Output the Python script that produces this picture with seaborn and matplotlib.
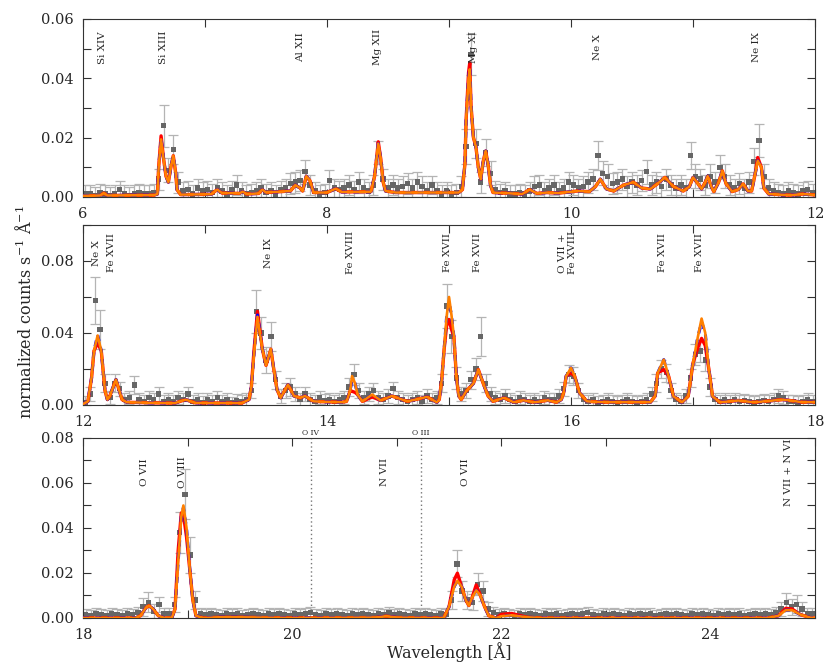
import numpy as np
import pandas as pd
import matplotlib
matplotlib.use('Agg')
import matplotlib.pyplot as plt
from matplotlib.ticker import MultipleLocator
import seaborn as sns

# observed spectrum, units of 1e-3 counts/s/A, regular bins per panel
start1, step1 = 6.02, 0.04
data1 = [1, 1, 0.5, 1.5, 1, 0.5, 1, 2.5, 1, 0.5, 1, 1.5, 1, 1, 1.5,
         6, 24, 9, 16, 5, 2, 2.5, 1, 3, 2, 2.5, 1.5, 3, 2, 1,
         2.5, 4, 2, 1, 1.5, 2, 3, 1.5, 2, 1, 2.5, 3, 4.5, 5, 5.5,
         8.5, 4, 2, 1, 1.5, 5.5, 3, 2.5, 3, 4, 2.5, 5, 3, 2, 4,
         15, 6, 3, 4, 3, 3.5, 4.5, 3, 5, 3.5, 2, 4, 2, 1, 2,
         1, 1.5, 3.5, 17, 48, 18, 5, 15, 8, 2.5, 1.5, 2, 1, 1, 1.5,
         1, 2, 3.5, 4, 2, 3, 4, 2, 3, 5, 4, 3, 3.5, 5, 6,
         14, 8, 7, 4.5, 5, 6, 3.5, 5, 4, 5.5, 8.5, 4, 5, 3.5, 6,
         4, 3, 4, 3, 14, 7, 6, 4, 7, 5, 10, 7, 4, 3, 4.5,
         3, 5, 12, 19, 7, 3, 2, 1.5, 1, 2, 1.5, 1, 2, 2.5, 1.5]
err1 = [3, 3, 3, 3, 3, 3, 3, 3, 3, 3, 3, 3, 3, 3, 3,
        3.5, 7, 4, 5, 3.5, 3, 3, 3, 3, 3, 3, 3, 3, 3, 3,
        3, 3.5, 3, 3, 3, 3, 3, 3, 3, 3, 3, 3, 3.5, 3.5, 3.5,
        4, 3.5, 3, 3, 3, 3.5, 3, 3, 3, 3.5, 3, 3.5, 3, 3, 3.5,
        4, 3.5, 3, 3.5, 3, 3.5, 3.5, 3, 3.5, 3.5, 3, 3, 3, 3, 3,
        3, 3, 3.5, 6, 7, 5, 3.5, 4.5, 4, 3, 3, 3, 3, 3, 3,
        3, 3, 3.5, 3.5, 3, 3, 3.5, 3, 3, 3.5, 3.5, 3, 3.5, 3.5, 3.5,
        5, 4, 4, 3.5, 3.5, 3.5, 3.5, 3.5, 3.5, 3.5, 4, 3.5, 3.5, 3.5, 3.5,
        3.5, 3, 3.5, 3, 4.5, 4, 3.5, 3.5, 4, 3.5, 4, 4, 3.5, 3, 3.5,
        3, 3.5, 4.5, 5.5, 4, 3, 3, 3, 3, 3, 3, 3, 3, 3, 3]

start2, step2 = 12.02, 0.04
data2 = [1.5, 6, 58, 42, 12, 4, 12, 9, 3, 4,
         11, 3, 2, 4, 3, 6, 2, 3, 2, 4,
         3, 6, 2, 3, 1.5, 3, 2, 4, 2, 3,
         1, 2.5, 2, 3, 8, 52, 40, 25, 38, 14,
         5, 8, 10, 6, 3, 6, 3, 2, 4, 2.5,
         3, 2, 3, 4, 10, 17, 8, 4, 6, 8,
         4, 3, 5, 9, 4, 3, 2, 3, 4, 2,
         5, 3, 4, 12, 55, 38, 15, 6, 8, 14,
         20, 38, 12, 6, 4, 3, 5, 3, 2, 4,
         3, 2, 3, 2, 4, 3, 3, 5, 9, 17,
         16, 8, 3, 2, 3, 1.5, 2, 3, 2, 1.5,
         2, 3, 2, 1.5, 2, 3, 6, 12, 20, 18,
         8, 3, 2, 5, 15, 28, 30, 25, 10, 3,
         2, 3, 2, 3, 2, 2.5, 2, 1.5, 2, 2.5,
         2, 3, 5, 4, 2, 2, 1.5, 2, 3, 2]
err2 = [3.5, 4, 13, 11, 5, 3.5, 5, 4, 3.5, 3.5,
        5, 3.5, 3.5, 3.5, 3.5, 4, 3.5, 3.5, 3.5, 3.5,
        3.5, 4, 3.5, 3.5, 3.5, 3.5, 3.5, 3.5, 3.5, 3.5,
        3.5, 3.5, 3.5, 3.5, 4, 12, 9, 7, 8, 5,
        4, 4, 5, 4, 3.5, 4, 3.5, 3.5, 3.5, 3.5,
        3.5, 3.5, 3.5, 3.5, 5, 6, 4, 3.5, 4, 4,
        3.5, 3.5, 4, 4, 3.5, 3.5, 3.5, 3.5, 3.5, 3.5,
        4, 3.5, 3.5, 5, 12, 9, 6, 4, 4, 5,
        6, 11, 5, 4, 3.5, 3.5, 4, 3.5, 3.5, 3.5,
        3.5, 3.5, 3.5, 3.5, 3.5, 3.5, 3.5, 4, 4, 5,
        5, 4, 3.5, 3.5, 3.5, 3.5, 3.5, 3.5, 3.5, 3.5,
        3.5, 3.5, 3.5, 3.5, 3.5, 3.5, 4, 5, 5, 5,
        4, 3.5, 3.5, 4, 5, 6, 6, 6, 5, 3.5,
        3.5, 3.5, 3.5, 3.5, 3.5, 3.5, 3.5, 3.5, 3.5, 3.5,
        3.5, 3.5, 4, 3.5, 3.5, 3.5, 3.5, 3.5, 3.5, 3.5]

start3, step3 = 18.025, 0.05
data3 = [1.5, 1, 2, 1.5, 1, 2, 1.5, 1, 2, 1.5, 2.5,
         5, 7, 3, 6, 2, 2, 6, 38, 55, 28, 8, 2,
         1.5, 2, 1.5, 1, 2, 1.5, 2, 1, 1.5, 2,
         1.5, 1, 2, 1.5, 2, 1.5, 1, 2, 1.5, 2,
         2.5, 1.5, 1, 2, 1.5, 2, 1.5, 1, 2, 1.5,
         2, 1.5, 1, 2, 1.5, 2.5, 1.5, 2, 1.5, 1,
         2, 1.5, 2, 1.5, 1, 2, 1.5,
         8, 24, 12, 8, 7, 15, 12, 4, 2.5,
         1.5, 2, 1.5, 1, 2, 1.5, 2, 1.5, 1, 2,
         1.5, 2, 1, 1.5, 2, 1.5, 2, 2.5, 1.5, 1,
         2, 1.5, 2, 1.5, 1, 2, 1.5, 2, 1.5, 2,
         1, 1.5, 2, 1.5, 2, 1.5, 1, 2, 1.5, 2,
         1.5, 1, 2, 1.5, 2, 1.5, 2, 1, 1.5, 2,
         1.5, 2, 1.5, 2.5,
         4, 7, 5, 6, 4, 2, 2]
err3 = ([2.5] * 11 + [4, 4.5, 3, 3.5, 2.5, 2.5, 3.5, 9, 11, 8, 4, 2.5]
        + [2.5] * 47 + [4, 6, 4.5, 4, 3.5, 5, 4.5, 3, 2.5]
        + [2.5] * 54 + [3, 4, 3.5, 4, 3, 2.5, 2.5])

# best-fit model (orange), sampled at its turning points
model1_wl = [6.00, 6.14, 6.17, 6.20, 6.58, 6.61, 6.62, 6.64, 6.66, 6.68, 6.70, 6.72, 6.74, 6.76,
             6.77, 6.80, 7.05, 7.10, 7.14, 7.28, 7.31, 7.34, 7.44, 7.47, 7.50, 7.70, 7.74, 7.78,
             7.80, 7.83, 7.86, 7.89, 8.00, 8.07, 8.12, 8.36, 8.39, 8.41, 8.42, 8.44, 8.46, 8.48,
             8.56, 9.08, 9.11, 9.13, 9.14, 9.16, 9.17, 9.18, 9.20, 9.22, 9.24, 9.26, 9.28, 9.30,
             9.32, 9.34, 9.36, 9.60, 9.66, 9.72, 9.80, 9.90, 10.05, 10.15, 10.20, 10.24, 10.29,
             10.35, 10.43, 10.51, 10.58, 10.65, 10.71, 10.77, 10.84, 10.92, 10.97, 11.00, 11.04,
             11.07, 11.10, 11.12, 11.15, 11.17, 11.21, 11.24, 11.27, 11.32, 11.37, 11.41, 11.45,
             11.48, 11.51, 11.53, 11.56, 11.58, 11.62, 11.80, 11.90, 12.00]
model1_val = [0.4, 0.5, 1.3, 0.5, 0.6, 1.0, 10, 19.4, 13, 7, 5, 10, 13.9, 8,
              2.5, 0.8, 0.9, 2.5, 1.3, 1.2, 1.8, 1.0, 1.2, 2.5, 1.5, 2, 4, 3,
              2, 7, 5.5, 1.5, 1.5, 2.8, 1.7, 1.8, 7, 14.5, 18, 13, 5, 2,
              1.5, 1.5, 2.5, 11, 26, 40, 43, 31, 20, 17, 10, 6, 12, 15.5,
              11, 4, 1.5, 1, 2.5, 1.2, 1.5, 1.3, 2, 1.8, 3.5, 6, 2.7,
              2, 4, 5, 3, 2.7, 4.5, 6.6, 3.5, 2, 3.5, 6.6, 4.5,
              2.7, 5, 7, 3.5, 1.8, 5, 8.8, 4.5, 1.8, 2.5, 4.4, 2,
              2, 8, 12.2, 10, 3, 1, 0.6, 1.0, 0.7]
model2_wl = [12.00, 12.04, 12.07, 12.09, 12.12, 12.15, 12.18, 12.20, 12.22, 12.27, 12.32, 12.36,
             12.75, 12.84, 12.92, 13.30, 13.36, 13.38, 13.40, 13.43, 13.47, 13.50, 13.54, 13.56,
             13.59, 13.62, 13.68, 13.73, 13.78, 13.82, 13.89, 14.12, 14.16, 14.19, 14.205, 14.23,
             14.25, 14.29, 14.37, 14.44, 14.53, 14.66, 14.82, 14.90, 14.92, 14.94, 14.96, 14.98,
             15.00, 15.02, 15.04, 15.06, 15.08, 15.10, 15.14, 15.20, 15.24, 15.28, 15.32, 15.36,
             15.45, 15.53, 15.61, 15.70, 15.81, 15.88, 15.92, 15.94, 15.96, 16.00, 16.03, 16.07,
             16.13, 16.30, 16.65, 16.69, 16.71, 16.76, 16.80, 16.84, 16.91, 16.96, 17.00, 17.04,
             17.07, 17.10, 17.13, 17.16, 17.22, 17.37, 17.50, 17.74, 17.90, 18.00]
model2_val = [0.5, 2, 15, 30, 38.6, 30, 8, 3, 5, 14.1, 3, 1.5,
              1, 3, 1.2, 1, 3, 10, 27, 49, 31, 22, 31, 21.5,
              8.5, 4, 11.3, 5, 4, 5, 2, 1.5, 2, 8, 16, 12,
              5.8, 2, 5.8, 2.5, 5, 2, 4.5, 1.5, 3, 14, 31, 49,
              60, 50, 38, 16, 5, 3, 7.6, 12, 19.7, 12, 5, 2,
              4, 1.5, 2.6, 1.5, 2.6, 1.5, 3, 7, 16, 20.6, 16, 6.7,
              2, 1.5, 1.5, 5, 17.8, 25.2, 16, 4.8, 1.5, 4.8, 23.4, 38,
              48, 40, 19.7, 4.8, 1.5, 2.5, 1.5, 3, 1.5, 1.5]
model3_wl = [18.00, 18.50, 18.55, 18.60, 18.63, 18.67, 18.72, 18.78, 18.85, 18.88,
             18.91, 18.94, 18.96, 18.99, 19.02, 19.05, 19.08, 19.15, 19.30, 19.50,
             19.70, 20.00, 20.80, 20.90, 21.00, 21.40, 21.45, 21.50, 21.55, 21.58,
             21.62, 21.66, 21.69, 21.72, 21.76, 21.80, 21.84, 21.88, 21.95, 22.00,
             22.10, 22.25, 22.40, 24.55, 24.65, 24.72, 24.78, 24.86, 24.95, 25.00]
model3_val = [0, 0, 1, 4.5, 5.5, 4, 1, 0, 0.2, 4,
              25, 45, 50, 40, 22, 8, 1, 0, 0.3, 0.3,
              0.2, 0, 0.2, 0.8, 0.2, 0, 0.2, 5, 14, 16.5,
              14, 8, 5.5, 9, 12.3, 10, 5, 1, 0, 0.8,
              1.2, 0.3, 0, 0, 1, 3.5, 3.5, 1.5, 0.2, 0]

# the other two models differ from the orange one only near the strong lines
red1 = {6.64: 20.6, 8.42: 18.6, 9.16: 42, 9.17: 45.2, 11.53: 13.3}
red2 = {12.12: 34.5, 13.40: 29, 13.43: 52, 14.205: 7.6, 14.23: 7, 14.37: 4.5, 14.98: 44,
        15.00: 47.5, 15.02: 42, 16.00: 17.8, 16.76: 19.7, 17.04: 32, 17.07: 37, 17.10: 33}
red3 = {18.91: 30, 18.94: 46.7, 18.96: 46, 18.99: 36, 21.55: 17, 21.58: 19.9, 21.76: 14.7,
        22.00: 1.6, 22.10: 2.0, 24.72: 4.3, 24.78: 4.0}
blue1 = {6.64: 19.8, 9.17: 43.8}
blue2 = {12.12: 39, 13.43: 50, 14.205: 14, 15.00: 57, 17.07: 46}
blue3 = {18.96: 49}

lines1 = [(6.16, 'Si XIV'), (6.66, 'Si XIII'), (7.78, 'Al XII'), (8.41, 'Mg XII'),
          (9.20, 'Mg XI'), (10.22, 'Ne X'), (11.52, 'Ne IX')]
lines2 = [(12.11, 'Ne X'), (12.23, 'Fe XVII'), (13.52, 'Ne IX'), (14.19, 'Fe XVIII'),
          (14.99, 'Fe XVII'), (15.23, 'Fe XVII'), (15.97, 'O VII +\nFe XVIII'),
          (16.75, 'Fe XVII'), (17.05, 'Fe XVII')]
lines3 = [(18.59, 'O VII'), (18.95, 'O VIII'), (20.88, 'N VII'), (21.66, 'O VII'),
          (24.75, 'N VII + N VI')]
edges3 = [(20.18, 'O IV'), (21.23, 'O III')]

panels = [
    dict(start=start1, step=step1, data=data1, err=err1, mwl=model1_wl, mval=model1_val,
         red=red1, blue=blue1, lines=lines1, xlim=(6, 12), ylim=(0, 0.06),
         ymaj=0.02, ymin=0.01, labely=0.84, pos=[0.100, 0.7038, 0.882, 0.2677]),
    dict(start=start2, step=step2, data=data2, err=err2, mwl=model2_wl, mval=model2_val,
         red=red2, blue=blue2, lines=lines2, xlim=(12, 18), ylim=(0, 0.10),
         ymaj=0.04, ymin=0.02, labely=0.845, pos=[0.100, 0.391, 0.882, 0.2707]),
    dict(start=start3, step=step3, data=data3, err=err3, mwl=model3_wl, mval=model3_val,
         red=red3, blue=blue3, lines=lines3, xlim=(18, 25), ylim=(0, 0.08),
         ymaj=0.02, ymin=0.01, labely=0.81, pos=[0.100, 0.0707, 0.882, 0.2707]),
]

sns.set_style('ticks')
plt.rcParams['font.family'] = ['DejaVu Serif']
plt.rcParams['mathtext.fontset'] = 'dejavuserif'

fig = plt.figure(figsize=(8.3, 6.65), dpi=100)

for p in panels:
    ax = fig.add_axes(p['pos'])
    n = len(p['data'])
    obs = pd.DataFrame({'wl': p['start'] + p['step'] * np.arange(n),
                        'flux': np.array(p['data']) * 1e-3,
                        'err': np.array(p['err']) * 1e-3})
    mod = pd.DataFrame({'wl': p['mwl'], 'orange': np.array(p['mval']) * 1e-3})
    mod['red'] = [p['red'].get(w, v) * 1e-3 for w, v in zip(p['mwl'], p['mval'])]
    mod['blue'] = [p['blue'].get(w, v) * 1e-3 for w, v in zip(p['mwl'], p['mval'])]

    ax.errorbar(obs['wl'], obs['flux'], yerr=obs['err'], fmt='none',
                ecolor='#b4b4b4', elinewidth=0.9, capsize=3.5, capthick=0.9, zorder=1)
    sns.scatterplot(data=obs, x='wl', y='flux', ax=ax, marker='s', s=15,
                    color='#666666', edgecolor='none', zorder=2)
    sns.lineplot(data=mod, x='wl', y='red', ax=ax, color='red', lw=2.4,
                 estimator=None, sort=False, zorder=3)
    sns.lineplot(data=mod, x='wl', y='blue', ax=ax, color='blue', lw=2.2,
                 ls=(0, (2, 2)), estimator=None, sort=False, zorder=4)
    sns.lineplot(data=mod, x='wl', y='orange', ax=ax, color='#ff8000', lw=1.9,
                 estimator=None, sort=False, zorder=5)

    for wl, name in p['lines']:
        ax.text(wl, p['labely'], name, rotation=90, ha='center', va='center',
                fontsize=7.5, transform=ax.get_xaxis_transform(), linespacing=1.1)

    ax.set_xlim(*p['xlim'])
    ax.set_ylim(*p['ylim'])
    ax.xaxis.set_major_locator(MultipleLocator(2))
    ax.xaxis.set_minor_locator(MultipleLocator(1))
    ax.yaxis.set_major_locator(MultipleLocator(p['ymaj']))
    ax.yaxis.set_minor_locator(MultipleLocator(p['ymin']))
    ax.yaxis.set_major_formatter(matplotlib.ticker.FormatStrFormatter('%.2f'))
    ax.tick_params(which='both', direction='in', top=True, right=True, labelsize=10.5,
                   color='#333333', width=0.8)
    ax.tick_params(which='major', length=6, pad=7)
    ax.tick_params(which='minor', length=6)
    ax.set_xlabel('')
    ax.set_ylabel('')
    for s in ax.spines.values():
        s.set_color('#333333')
        s.set_linewidth(0.8)

    if p is panels[2]:
        for wl, name in edges3:
            ax.axvline(wl, color='#777777', lw=1, ls=(0, (1, 2)), zorder=0)
            ax.text(wl, 1.005, name, ha='center', va='bottom', fontsize=5.5,
                    transform=ax.get_xaxis_transform())

fig.text(0.03, 0.53, 'normalized counts s$^{-1}$ Å$^{-1}$', rotation=90,
         ha='center', va='center', fontsize=11.5)
fig.text(0.541, 0.02, 'Wavelength [Å]', ha='center', va='center', fontsize=11.5)

fig.savefig('out.png', dpi=100)
